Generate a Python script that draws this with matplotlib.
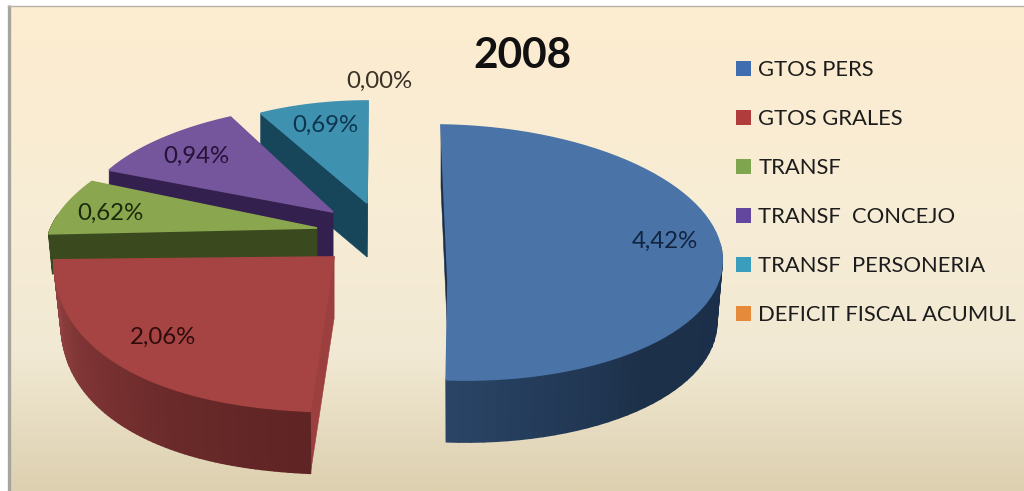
import numpy as np
import matplotlib
matplotlib.use("Agg")
import matplotlib.pyplot as plt
from matplotlib.patches import Patch, Polygon
from matplotlib.colors import LinearSegmentedColormap

# ---- data ----
title = "2008"
categories = ["GTOS PERS", "GTOS GRALES", "TRANSF", "TRANSF  CONCEJO",
              "TRANSF  PERSONERIA", "DEFICIT FISCAL ACUMUL"]
values = [4.42, 2.06, 0.62, 0.94, 0.69, 0.00]

# ---- style ----
top_colors = ["#4a74a8", "#a64343", "#8aa64f", "#75559b", "#3f91b0", "#e08a3c"]
legend_colors = ["#3f6db0", "#b03c3c", "#7fa54f", "#63479f", "#3a9dbd", "#e5893a"]
wall_start = ["#1b2f4a", "#9c3f3f", "#3a4a1e", "#33204e", "#17465a", "#8a5020"]
side_colors = ["#1b2f4a", "#9c3f3f", "#3a4a1e", "#33204e", "#17465a", "#8a5020"]
# outer-wall shading, from the start of a slice's arc to its end
wall_ramps = [["#1c3049", "#1c3049", "#1b2f4a", "#1c3049", "#2a4466"],
              ["#5f2424", "#6b2a2a", "#7d3333", "#924242"],
              ["#3a4a1e", "#3a4a1e"], ["#33204e", "#33204e"],
              ["#17465a", "#17465a"], ["#8a5020", "#8a5020"]]
text_colors = ["#10233f", "#2f0c0c", "#1b2a0c", "#241238", "#0d3550", "#3a3226"]

# per-slice projection, in figure pixels
apex = [(448, 282), (334, 257), (317, 228), (333, 212), (367, 203), (367, 203)]
center = [(449, 252.5), (334, 257), (317, 228), (333, 212), (367, 203), (367, 203)]
rx = [273, 280, 266, 251, 225, 225]
ry = [127.5, 155, 120, 108, 102, 102]
sx = [-8, 6, 52, 19.5, 1, 1]
tilt = [4, 9, 0, 0, 0, 0]
power = [1, 0.85, 1, 1, 1, 1]
depth = [62, 62, 40, 48, 54, 54]
shrink = [0.98, 0.975, 0.985, 1, 1, 1]
label_xy = [(665, 241), (163, 337), (110, 213), (196, 156), (325, 125), (379, 81)]
draw_order = [4, 3, 2, 0, 1]

W, H = 1024, 491
plt.rcParams["font.family"] = ["Lato", "DejaVu Sans"]
fig = plt.figure(figsize=(W / 100, H / 100), dpi=100, facecolor="white")
ax = fig.add_axes([0, 0, 1, 1])
ax.axis("off")

# background panel
cmap = LinearSegmentedColormap.from_list(
    "bg", [(0, "#fdecd0"), (0.5, "#f6ecd6"), (0.72, "#f1e9d3"), (1, "#ddd0b0")])
ax.imshow(np.linspace(0, 1, 256).reshape(-1, 1), cmap=cmap, aspect="auto",
          extent=(9, W, H, 6), zorder=0)
ax.set_xlim(0, W)
ax.set_ylim(H, 0)
ax.plot([8.5, 8.5], [5, H], color="#a5a5a0", lw=2.4, zorder=1, solid_capstyle="butt")
ax.plot([8, W], [5.5, 5.5], color="#b5b2aa", lw=1, zorder=1)


def arc(i, th, scale=1.0):
    s, c = np.sin(th), np.cos(th)
    p = power[i]
    u = np.sign(s) * np.abs(s) ** p
    v = np.sign(c) * np.abs(c) ** p
    x = center[i][0] + rx[i] * scale * u + sx[i] * v
    y = center[i][1] - ry[i] * v + tilt[i] * u
    return x, y


total = sum(values)
edges = np.concatenate([[0], np.cumsum(values)]) / total * 2 * np.pi

z = 2
for i in draw_order:
    th = np.linspace(edges[i], edges[i + 1], 70)
    x, y = arc(i, th)
    xb, yb = arc(i, th, shrink[i])
    yb = yb + depth[i]
    ax_, ay_ = apex[i]

    # radial faces
    for xe, ye, xeb, yeb, col in [(x[0], y[0], xb[0], yb[0], wall_start[i]),
                                  (x[-1], y[-1], xb[-1], yb[-1], side_colors[i])]:
        ax.add_patch(Polygon([(ax_, ay_), (xe, ye), (xeb, yeb), (ax_, ay_ + depth[i])],
                             closed=True, fc=col, ec=col, lw=0.4, zorder=z))
    z += 1

    # outer wall, near side only, with a shaded strip per segment
    cm = LinearSegmentedColormap.from_list("w", wall_ramps[i])
    for k in range(len(th) - 1):
        if np.cos(th[k]) > 0.1:
            continue
        col = cm(k / (len(th) - 2))
        ax.add_patch(Polygon([(x[k], y[k]), (x[k + 1], y[k + 1]),
                              (xb[k + 1], yb[k + 1]), (xb[k], yb[k])],
                             closed=True, fc=col, ec=col, lw=1.2, zorder=z,
                             joinstyle="round"))
    z += 1

    # top face
    ax.add_patch(Polygon(np.column_stack([np.r_[ax_, x], np.r_[ay_, y]]), closed=True,
                         fc=top_colors[i], ec=top_colors[i], lw=1.2, zorder=z))
    z += 1

for i, v in enumerate(values):
    ax.text(label_xy[i][0], label_xy[i][1], f"{v:.2f}".replace(".", ",") + "%",
            ha="center", va="center", fontsize=17.3, color=text_colors[i], zorder=50)

ax.text(522.5, 55.5, title, ha="center", va="center", fontsize=30.5,
        fontweight="bold", color="#111111", zorder=50)

handles = [Patch(facecolor=c, edgecolor="none") for c in legend_colors]
ax.legend(handles, categories, loc="upper left", bbox_to_anchor=(732 / W, 1 - 56 / H),
          frameon=False, fontsize=15.85, handlelength=0.68, handleheight=0.68,
          handletextpad=0.32, labelspacing=1.315, borderaxespad=0, borderpad=0.2,
          labelcolor="#1c1c1c")

fig.savefig("out.png", dpi=100, facecolor="white")
